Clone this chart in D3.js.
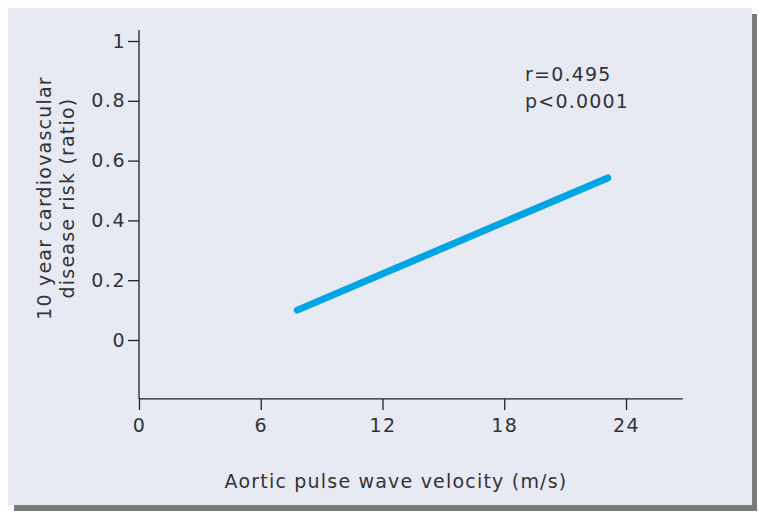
<!DOCTYPE html>
<html>
<head>
<meta charset="utf-8">
<script src="https://cdn.jsdelivr.net/npm/d3@7"></script>
<style>
  body { margin: 0; background: #fff; }
  text { font-family: "DejaVu Sans", sans-serif; fill: #333; letter-spacing: 1.2px; }
</style>
</head>
<body>
<div id="chart"></div>
<script>
// data
const xTicks = [0, 6, 12, 18, 24];
const yTicks = [0, 0.2, 0.4, 0.6, 0.8, 1];
const lineX = [7.8, 23.1];
const lineY = [0.1, 0.542];
const stats = ['r=0.495', 'p<0.0001'];

const width = 759, height = 513;

const svg = d3.select('#chart').append('svg')
  .attr('width', width)
  .attr('height', height);

// panel + drop shadow
svg.append('rect').attr('x', 14).attr('y', 14).attr('width', 743).attr('height', 497).attr('fill', '#7a7a7a');
svg.append('rect').attr('x', 8).attr('y', 8).attr('width', 744).attr('height', 497).attr('fill', '#e7e9f3');

const x = d3.scaleLinear().domain([0, 24]).range([139, 626]);
const y = d3.scaleLinear().domain([0, 1]).range([340, 41]);

const xMax = 26.8, yMin = -0.197, yMax = 1.037;

const g = svg.append('g');

// x axis
const xAxis = g.append('g')
  .attr('transform', 'translate(0,' + y(yMin) + ')')
  .call(d3.axisBottom(x).tickValues(xTicks).tickSize(11).tickPadding(9).tickFormat(d3.format('d')));
xAxis.select('.domain').attr('d', 'M' + x(0) + ',0H' + x(xMax));

// y axis
const yAxis = g.append('g')
  .attr('transform', 'translate(' + x(0) + ',0)')
  .call(d3.axisLeft(y).tickValues(yTicks).tickSize(11).tickPadding(2).tickFormat(d => d === 0 || d === 1 ? d : d3.format('.1f')(d)));
yAxis.select('.domain').attr('d', 'M0,' + y(yMax) + 'V' + y(yMin));

g.selectAll('.domain, .tick line').attr('stroke', '#222').attr('stroke-width', 1.3);
g.selectAll('.tick text')
  .attr('font-size', 19)
  .attr('font-family', null)
  .style('letter-spacing', '1.5px')
  .style('fill', '#333');

// regression line
const pts = lineX.map((d, i) => [d, lineY[i]]);
svg.append('path')
  .datum(pts)
  .attr('d', d3.line().x(d => x(d[0])).y(d => y(d[1])))
  .attr('fill', 'none')
  .attr('stroke', '#00a5e3')
  .attr('stroke-width', 7)
  .attr('stroke-linecap', 'round');

// stats annotation
svg.selectAll('.stat')
  .data(stats)
  .enter()
  .append('text')
  .attr('class', 'stat')
  .attr('x', 525)
  .attr('y', (d, i) => 81 + i * 27)
  .attr('font-size', 19)
  .text(d => d);

// axis titles
svg.append('text')
  .attr('x', 396)
  .attr('y', 488)
  .attr('text-anchor', 'middle')
  .attr('font-size', 19)
  .text('Aortic pulse wave velocity (m/s)');

const yTitle = svg.append('text')
  .attr('transform', 'translate(0,198) rotate(-90)')
  .attr('text-anchor', 'middle')
  .attr('font-size', 19);
yTitle.append('tspan').attr('x', 0).attr('y', 51).text('10 year cardiovascular');
yTitle.append('tspan').attr('x', 0).attr('y', 74).text('disease risk (ratio)');
</script>
</body>
</html>
